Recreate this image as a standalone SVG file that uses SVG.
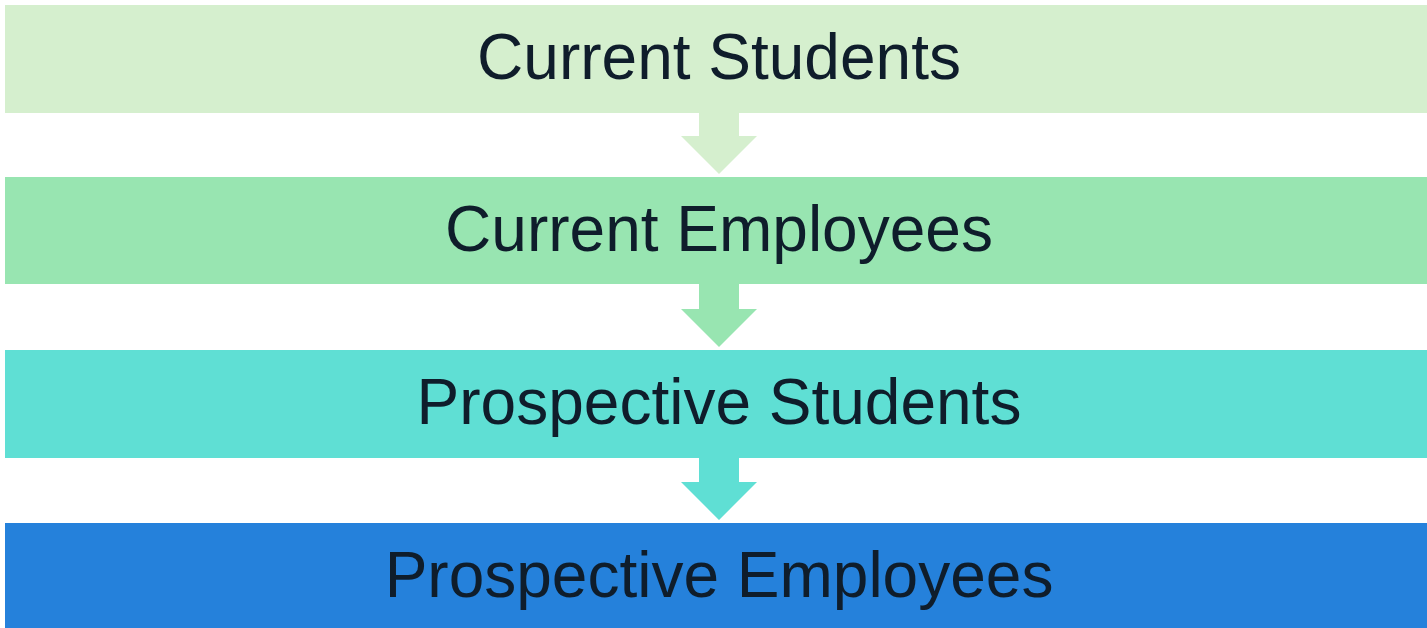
<svg xmlns="http://www.w3.org/2000/svg" width="1427" height="628" viewBox="0 0 1427 628">
<style>
text{font-family:"Liberation Sans",Arial,sans-serif;font-size:64px;fill:#0f1d2b;text-anchor:middle}
</style>
<rect width="1427" height="628" fill="#ffffff"/>
<g id="connectors">
<polygon points="699,112 739,112 739,136 757,136 719,174 681,136 699,136" fill="#d5efce"/>
<polygon points="699,283 739,283 739,309 757,309 719,347 681,309 699,309" fill="#98e5b1"/>
<polygon points="699,456 739,456 739,482 757,482 719,520 681,482 699,482" fill="#5fdfd4"/>
</g>
<g id="n1"><rect x="5" y="5" width="1422" height="108" fill="#d5efce"/><text x="719" y="79">Current Students</text></g>
<g id="n2"><rect x="5" y="177" width="1422" height="107" fill="#98e5b1"/><text x="719" y="251">Current Employees</text></g>
<g id="n3"><rect x="5" y="350" width="1422" height="108" fill="#5fdfd4"/><text x="719" y="424">Prospective Students</text></g>
<g id="n4"><rect x="5" y="523" width="1422" height="105" fill="#2581db"/><text x="719" y="597">Prospective Employees</text></g>
</svg>
